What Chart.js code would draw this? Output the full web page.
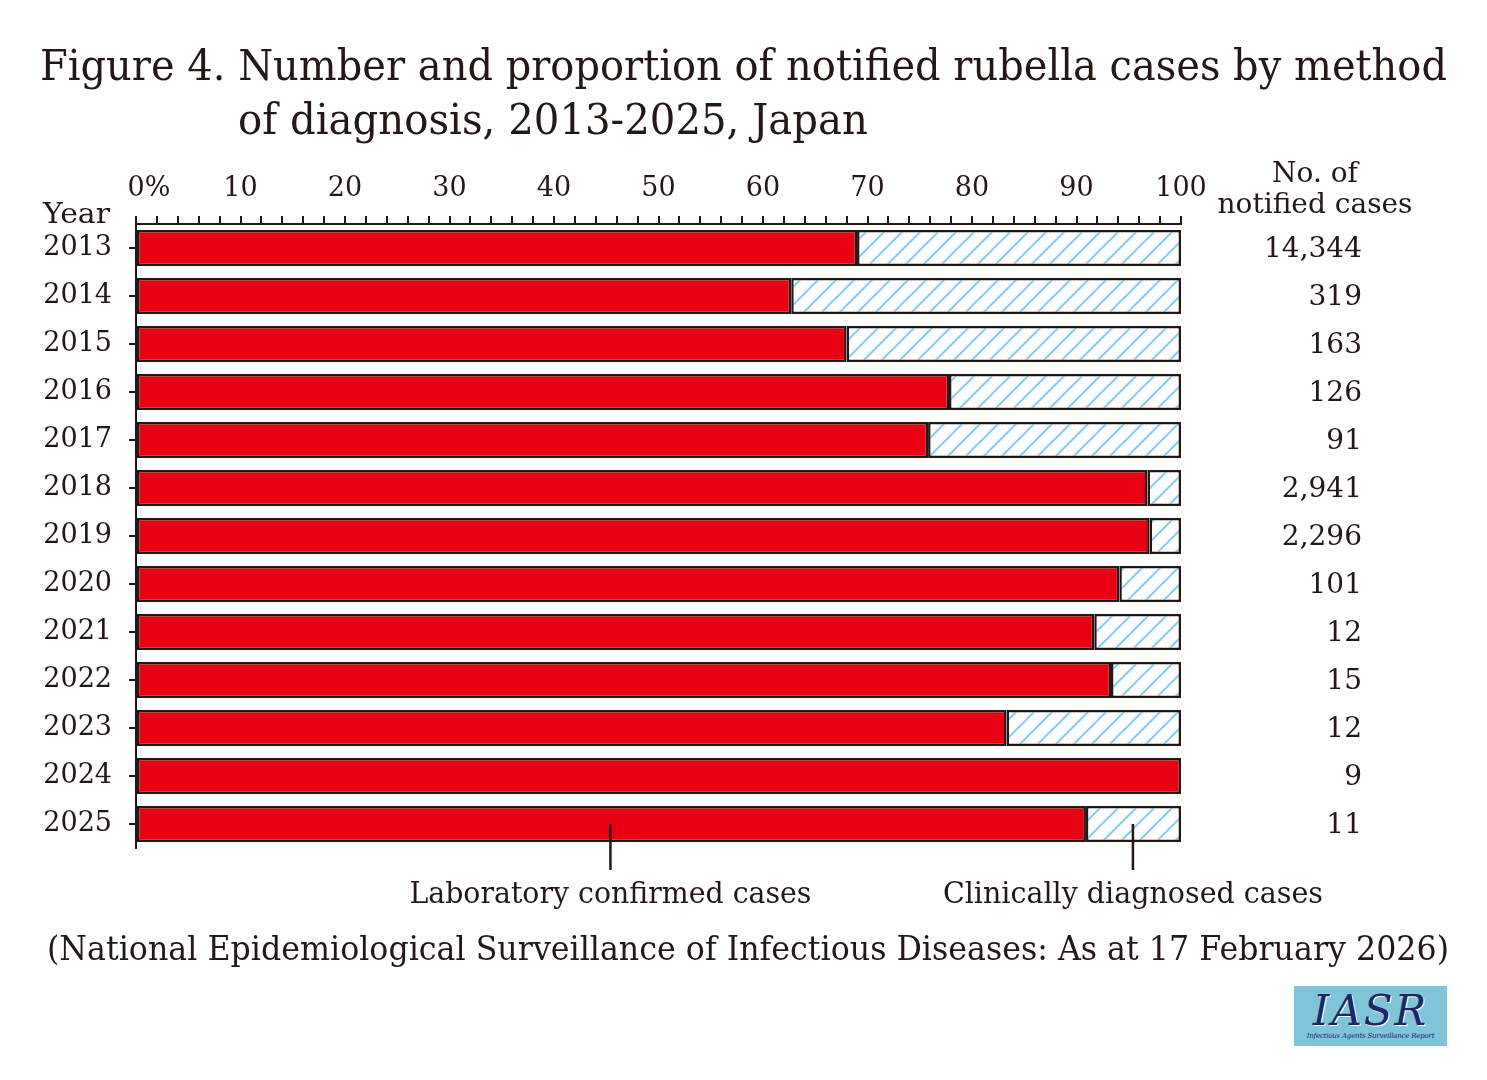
<!DOCTYPE html>
<html>
<head>
<meta charset="utf-8">
<script src="https://cdn.jsdelivr.net/npm/chart.js@4.4.1/dist/chart.umd.min.js"></script>
<style>
  html, body { margin: 0; padding: 0; background: #fff; }
  body { width: 1487px; height: 1080px; position: relative; overflow: hidden; font-family: 'DejaVu Serif', serif; color: #231815; }
  #chart { position: absolute; left: 0; top: 0; }
  .txt { position: absolute; white-space: nowrap; transform-origin: left top; line-height: 1; }
  #logo { position: absolute; left: 1294px; top: 986px; width: 153px; height: 60px; background: #7fc4d9; text-align: center; overflow: hidden; }
  #logo .big { font-family: 'DejaVu Serif', serif; font-style: italic; font-size: 42px; color: #1c2766; letter-spacing: 2px; line-height: 42px; margin-top: 4px; text-shadow: 1px 1px 0 #fff; }
  #logo .small { font-family: 'DejaVu Serif', serif; font-style: italic; font-size: 7px; color: #1c2766; line-height: 9px; white-space: nowrap; letter-spacing: -0.2px; }
</style>
</head>
<body>
<canvas id="chart" width="1487" height="1080"></canvas>
<div class="txt" id="t1" data-w="1407" style="left:40px; top:45px; font-size:42px;">Figure 4. Number and proportion of notified rubella cases by method</div>
<div class="txt" id="t2" data-w="630" style="left:238px; top:99px; font-size:42px;">of diagnosis, 2013-2025, Japan</div>
<div class="txt" id="src" data-w="1402" style="left:47px; top:932px; font-size:33px;">(National Epidemiological Surveillance of Infectious Diseases: As at 17 February 2026)</div>
<div id="logo"><div class="big">IASR</div><div class="small">Infectious Agents Surveillance Report</div></div>
<script>
// datos
const years = ['2013', '2014', '2015', '2016', '2017', '2018', '2019', '2020', '2021', '2022', '2023', '2024', '2025'];
const labConfirmed = [69.0, 62.7, 68.0, 77.8, 75.8, 96.8, 97.0, 94.1, 91.7, 93.3, 83.3, 100, 90.9];
const clinicallyDiagnosed = [31.0, 37.3, 32.0, 22.2, 24.2, 3.2, 3.0, 5.9, 8.3, 6.7, 16.7, 0, 9.1];
const notifiedCases = ['14,344', '319', '163', '126', '91', '2,941', '2,296', '101', '12', '15', '12', '9', '11'];
const percentTicks = [0, 10, 20, 30, 40, 50, 60, 70, 80, 90, 100];

const INK = '#231815';
const RED = '#e60012';
const SERIF = "'DejaVu Serif', serif";

// ajustar el ancho de los textos del HTML
document.querySelectorAll('.txt').forEach(function (el) {
    const w = el.getBoundingClientRect().width;
    const target = parseFloat(el.dataset.w);
    el.style.transform = 'scaleX(' + (target / w) + ')';
});

// patrón de líneas diagonales para los casos clínicos
function crearRayado(ctx) {
    const c = document.createElement('canvas');
    c.width = 18; c.height = 18;
    const g = c.getContext('2d');
    g.fillStyle = '#fff';
    g.fillRect(0, 0, 18, 18);
    g.strokeStyle = '#86cdef';
    g.lineWidth = 2;
    g.beginPath();
    g.moveTo(-2, 20); g.lineTo(20, -2);
    g.moveTo(-11, 11); g.lineTo(11, -11);
    g.moveTo(7, 29); g.lineTo(29, 7);
    g.stroke();
    return ctx.createPattern(c, 'repeat');
}

// texto con ancho fijo
function textoAjustado(ctx, text, x, y, align, width) {
    const w = ctx.measureText(text).width;
    const s = width ? width / w : 1;
    ctx.save();
    ctx.translate(x, y);
    ctx.scale(s, 1);
    ctx.textAlign = align;
    ctx.fillText(text, 0, 0);
    ctx.restore();
}

const extras = {
    id: 'extras',
    afterDraw(chart) {
        const ctx = chart.ctx;
        const xs = chart.scales.x;
        const ys = chart.scales.y;
        ctx.save();
        ctx.fillStyle = INK;
        ctx.textBaseline = 'alphabetic';

        ctx.font = '28px ' + SERIF;
        textoAjustado(ctx, 'Year', 43, 223, 'left', 67);
        textoAjustado(ctx, 'No. of', 1315, 182, 'center', 86);
        textoAjustado(ctx, 'notified cases', 1315, 213, 'center', 195);

        // número de casos notificados
        ctx.font = '28px ' + SERIF;
        notifiedCases.forEach(function (n, i) {
            const y = ys.getPixelForValue(i) + 9;
            ctx.textAlign = 'right';
            ctx.fillText(n, 1362, y);
        });

        // líneas guía de la última barra
        const yLast = ys.getPixelForValue(years.length - 1);
        const guias = [
            { v: 45.4, label: 'Laboratory confirmed cases', w: 402 },
            { v: 95.4, label: 'Clinically diagnosed cases', w: 380 }
        ];
        ctx.strokeStyle = INK;
        ctx.lineWidth = 2.5;
        guias.forEach(function (g) {
            const x = xs.getPixelForValue(g.v);
            ctx.beginPath();
            ctx.moveTo(x, yLast);
            ctx.lineTo(x, 870);
            ctx.stroke();
            ctx.font = '29px ' + SERIF;
            textoAjustado(ctx, g.label, x, 903, 'center', g.w);
        });
        ctx.restore();
    }
};

const ctx = document.getElementById('chart').getContext('2d');
const rayado = crearRayado(ctx);

new Chart(ctx, {
    type: 'bar',
    data: {
        labels: years,
        datasets: [{
            label: 'Laboratory confirmed cases',
            data: labConfirmed,
            backgroundColor: RED,
            borderColor: INK,
            borderWidth: 2.5,
            borderSkipped: false
        }, {
            label: 'Clinically diagnosed cases',
            data: clinicallyDiagnosed,
            backgroundColor: rayado,
            borderColor: INK,
            borderWidth: 2.5,
            borderSkipped: false
        }]
    },
    options: {
        indexAxis: 'y',
        responsive: false,
        animation: false,
        devicePixelRatio: 1,
        layout: { padding: { left: 0, top: 0, right: 306, bottom: 232 } },
        datasets: { bar: { barPercentage: 0.75, categoryPercentage: 1 } },
        plugins: {
            legend: { display: false },
            tooltip: { enabled: false }
        },
        scales: {
            x: {
                position: 'top',
                stacked: true,
                min: 0,
                max: 100,
                afterFit: function (s) { s.height = 224; },
                afterBuildTicks: function (s) {
                    const t = [];
                    for (let v = 0; v <= 100; v += 2) t.push({ value: v });
                    s.ticks = t;
                },
                ticks: {
                    autoSkip: false,
                    maxRotation: 0,
                    color: INK,
                    padding: 11,
                    font: { family: SERIF, size: 27 },
                    callback: function (v) {
                        if (!percentTicks.includes(v)) return '';
                        return v === 0 ? '   0%' : String(v);
                    }
                },
                grid: { drawOnChartArea: false, drawTicks: true, tickLength: 8, color: INK, lineWidth: 2 },
                border: { display: true, color: INK, width: 2 }
            },
            y: {
                stacked: true,
                afterFit: function (s) { s.width = 136; },
                ticks: {
                    color: INK,
                    padding: 17,
                    font: { family: SERIF, size: 27 }
                },
                grid: { offset: false, drawOnChartArea: false, drawTicks: true, tickLength: 7, color: INK, lineWidth: 2 },
                border: { display: true, color: INK, width: 2 }
            }
        }
    },
    plugins: [extras]
});
</script>
</body>
</html>
